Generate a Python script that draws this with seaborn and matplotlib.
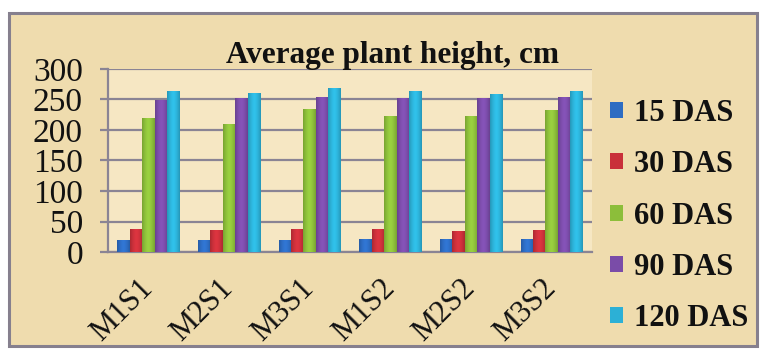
import numpy as np
import pandas as pd
import matplotlib
matplotlib.use("Agg")
import matplotlib.pyplot as plt
from matplotlib.patches import Rectangle
from matplotlib.colors import to_rgb
import seaborn as sns

# Treatments and sampling stages
treatments = ["M1S1", "M2S1", "M3S1", "M1S2", "M2S2", "M3S2"]
stages = ["15 DAS", "30 DAS", "60 DAS", "90 DAS", "120 DAS"]

# Plant height (cm) per stage, one value per treatment
h15 = [20, 20, 20, 22, 21, 21]
h30 = [37, 36, 37, 37, 35, 36]
h60 = [220, 210, 234, 223, 223, 233]
h90 = [249, 252, 254, 252, 252, 254]
h120 = [264, 260, 269, 264, 259, 264]

yticks = [0, 50, 100, 150, 200, 250, 300]
title = "Average plant height, cm"

colors = ["#2d6cc2", "#c9303a", "#8cbe3a", "#7a4ca8", "#2cb0d6"]

df = pd.DataFrame({
    "treatment": treatments * 5,
    "stage": np.repeat(stages, len(treatments)),
    "height": h15 + h30 + h60 + h90 + h120,
})

sns.set_theme(style="white")
plt.rcParams["font.family"] = ["Liberation Serif", "DejaVu Serif"]

fig = plt.figure(figsize=(7.68, 3.53), dpi=100, facecolor="white")
W, H = 768, 353

# Outer chart frame
frame = Rectangle((9 / W, 1 - 346 / H), (757 - 9) / W, (346 - 13) / H,
                  transform=fig.transFigure, facecolor="#efdcae",
                  edgecolor="#86808e", linewidth=2.2, zorder=-5)
fig.patches.append(frame)

ax = fig.add_axes([108 / W, 1 - 252 / H, (592 - 108) / W, (252 - 69) / H])
ax.set_zorder(2)
ax.set_facecolor("#f6e7c3")

sns.barplot(data=df, x="treatment", y="height", hue="stage",
            order=treatments, hue_order=stages, palette=colors,
            width=0.77, gap=0, saturation=1, ax=ax, zorder=3,
            edgecolor="none", linewidth=0)

# Cylinder-like shading on each bar
grad = np.linspace(-1, 1, 64)
shade = 1 - 0.45 * np.abs(grad) ** 1.6
for bars, col in zip(ax.containers, colors):
    base = np.array(to_rgb(col))
    img = np.clip(base[None, :] * (0.55 + 0.55 * shade[:, None]), 0, 1)
    img = img[None, :, :]
    for p in bars:
        x0, y0 = p.get_x(), p.get_y()
        w, h = p.get_width(), p.get_height()
        im = ax.imshow(img, extent=(x0, x0 + w, y0, y0 + h), aspect="auto",
                       zorder=4, interpolation="bilinear")
        im.set_clip_path(p)

ax.set_xlim(-0.5, len(treatments) - 0.5)
ax.set_ylim(0, 300)
ax.set_yticks(yticks)
ax.set_yticklabels([str(t) for t in yticks])
ax.set_xlabel("")
ax.set_ylabel("")

grid_col = "#8a8494"
ax.yaxis.grid(True, color=grid_col, linewidth=1.6, zorder=1)
ax.set_axisbelow(True)
for s in ["top", "right"]:
    ax.spines[s].set_visible(False)
for s in ["left", "bottom"]:
    ax.spines[s].set_color(grid_col)
    ax.spines[s].set_linewidth(1.6)

ax.tick_params(axis="y", which="major", direction="out", length=6,
               width=1.6, color=grid_col, pad=12, labelsize=24,
               labelcolor="#111111", left=True)
ax.tick_params(axis="x", length=0, pad=23, labelsize=22, labelcolor="#111111")
for lab in ax.get_xticklabels():
    lab.set_rotation(45)
    lab.set_ha("right")
    lab.set_va("center")
    lab.set_rotation_mode("anchor")

# Legend on the right
handles, labels = ax.get_legend_handles_labels()
ax.legend_.remove()
leg = fig.legend(handles, labels, loc="center left",
                 bbox_to_anchor=(598 / W, 1 - 216 / H), frameon=False,
                 prop={"family": "Liberation Serif", "weight": "bold", "size": 22},
                 handlelength=0.42, handleheight=0.42, handletextpad=0.35,
                 labelspacing=0.73, borderaxespad=0)
for t in leg.get_texts():
    t.set_color("#111111")

fig.text(392 / W, 1 - 55 / H, title, ha="center", va="center",
         fontsize=22.5, fontweight="bold", color="#111111",
         family="Liberation Serif")

fig.savefig("out.png", dpi=100, facecolor="white")
